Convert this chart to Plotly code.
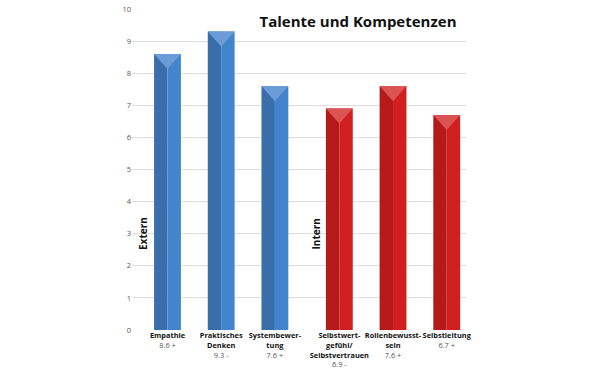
import plotly.graph_objects as go

# ---- data ----
categories = ["Empathie", "Praktisches<br>Denken", "Systembewer-<br>tung",
              "Selbstwert-<br>gefühl/<br>Selbstvertrauen", "Rollenbewusst-<br>sein", "Selbstleitung"]
values = [8.6, 9.3, 7.6, 6.9, 7.6, 6.7]
trend = ["+", "-", "+", "-", "+", "+"]
groups = ["Extern", "Extern", "Extern", "Intern", "Intern", "Intern"]
y_ticks = [0, 1, 2, 3, 4, 5, 6, 7, 8, 9, 10]
title_text = "Talente und Kompetenzen"

# ---- style ----
palette = {
    "Extern": {"dark": "#3a6eaa", "light": "#4385cd", "top": "#6b9cd8"},
    "Intern": {"dark": "#b41a1a", "light": "#d11f1f", "top": "#dc5353"},
}
group_gap = 0.2
half = 0.25
cap = 0.47
L, R, T, B = 132, 134, 9, 44
W, H = 600, 374

pos = []
for i, g in enumerate(groups):
    pos.append(i + (group_gap if g == "Intern" else 0))

fig = go.Figure()
for g in ["Extern", "Intern"]:
    idx = [i for i, gg in enumerate(groups) if gg == g]
    xs = [pos[i] for i in idx]
    vs = [values[i] for i in idx]
    fig.add_trace(go.Bar(x=xs, y=vs, width=half, offset=-half,
                         marker=dict(color=palette[g]["dark"], line=dict(width=0)),
                         showlegend=False, hoverinfo="skip"))
    fig.add_trace(go.Bar(x=xs, y=vs, width=half, offset=0,
                         marker=dict(color=palette[g]["light"], line=dict(width=0)),
                         showlegend=False, hoverinfo="skip"))
    tx, ty = [], []
    for x, v in zip(xs, vs):
        tx += [x - half, x + half, x, x - half, None]
        ty += [v, v, v - cap, v, None]
    fig.add_trace(go.Scatter(x=tx, y=ty, mode="lines", fill="toself",
                             fillcolor=palette[g]["top"], line=dict(width=0),
                             showlegend=False, hoverinfo="skip"))

ticktext = [f"<b>{c}</b><br><span style='color:#555'>{v} {t}</span>"
            for c, v, t in zip(categories, values, trend)]

pw, ph = W - L - R, H - T - B

def px_to_paper_x(px):
    return (px - L) / pw

def px_to_paper_y(py):
    return 1 - (py - T) / ph

fig.update_layout(
    width=W, height=H,
    margin=dict(l=L, r=R, t=T, b=B, autoexpand=False),
    paper_bgcolor="white", plot_bgcolor="white",
    barmode="overlay",
    font=dict(family="Open Sans", color="#222"),
    title=dict(text=f"<b>{title_text}</b>", x=358 / W, y=1 - 22 / H, xanchor="center",
               yanchor="middle", xref="container",
               font=dict(size=15, color="#111", family="Open Sans")),
    xaxis=dict(range=[-0.661, 5.559], tickvals=pos, ticktext=ticktext, automargin=False,
               showgrid=False, zeroline=False, showline=False, ticks="",
               tickfont=dict(size=7.4, color="#111"), tickangle=0),
    yaxis=dict(range=[0, 10], tickvals=y_ticks, showgrid=True, gridcolor="#dedede",
               gridwidth=1, zeroline=False, showline=False, ticks="", automargin=False,
               tickfont=dict(size=7.5, color="#555")),
    shapes=[dict(type="rect", xref="paper", yref="paper", x0=px_to_paper_x(255), x1=1.05,
                 y0=px_to_paper_y(34), y1=1.05, fillcolor="white", line=dict(width=0),
                 layer="between")],
)

for label, xpx in [("Extern", 143), ("Intern", 315.5)]:
    fig.add_annotation(text=f"<b>{label}</b>", x=px_to_paper_x(xpx), y=px_to_paper_y(234),
                       xref="paper", yref="paper", showarrow=False, textangle=-90,
                       xanchor="center", yanchor="middle",
                       font=dict(size=10, color="#111", family="Open Sans"))

fig.write_html("out.html", config={"displayModeBar": False},
               post_script="document.body.style.margin='0';")
